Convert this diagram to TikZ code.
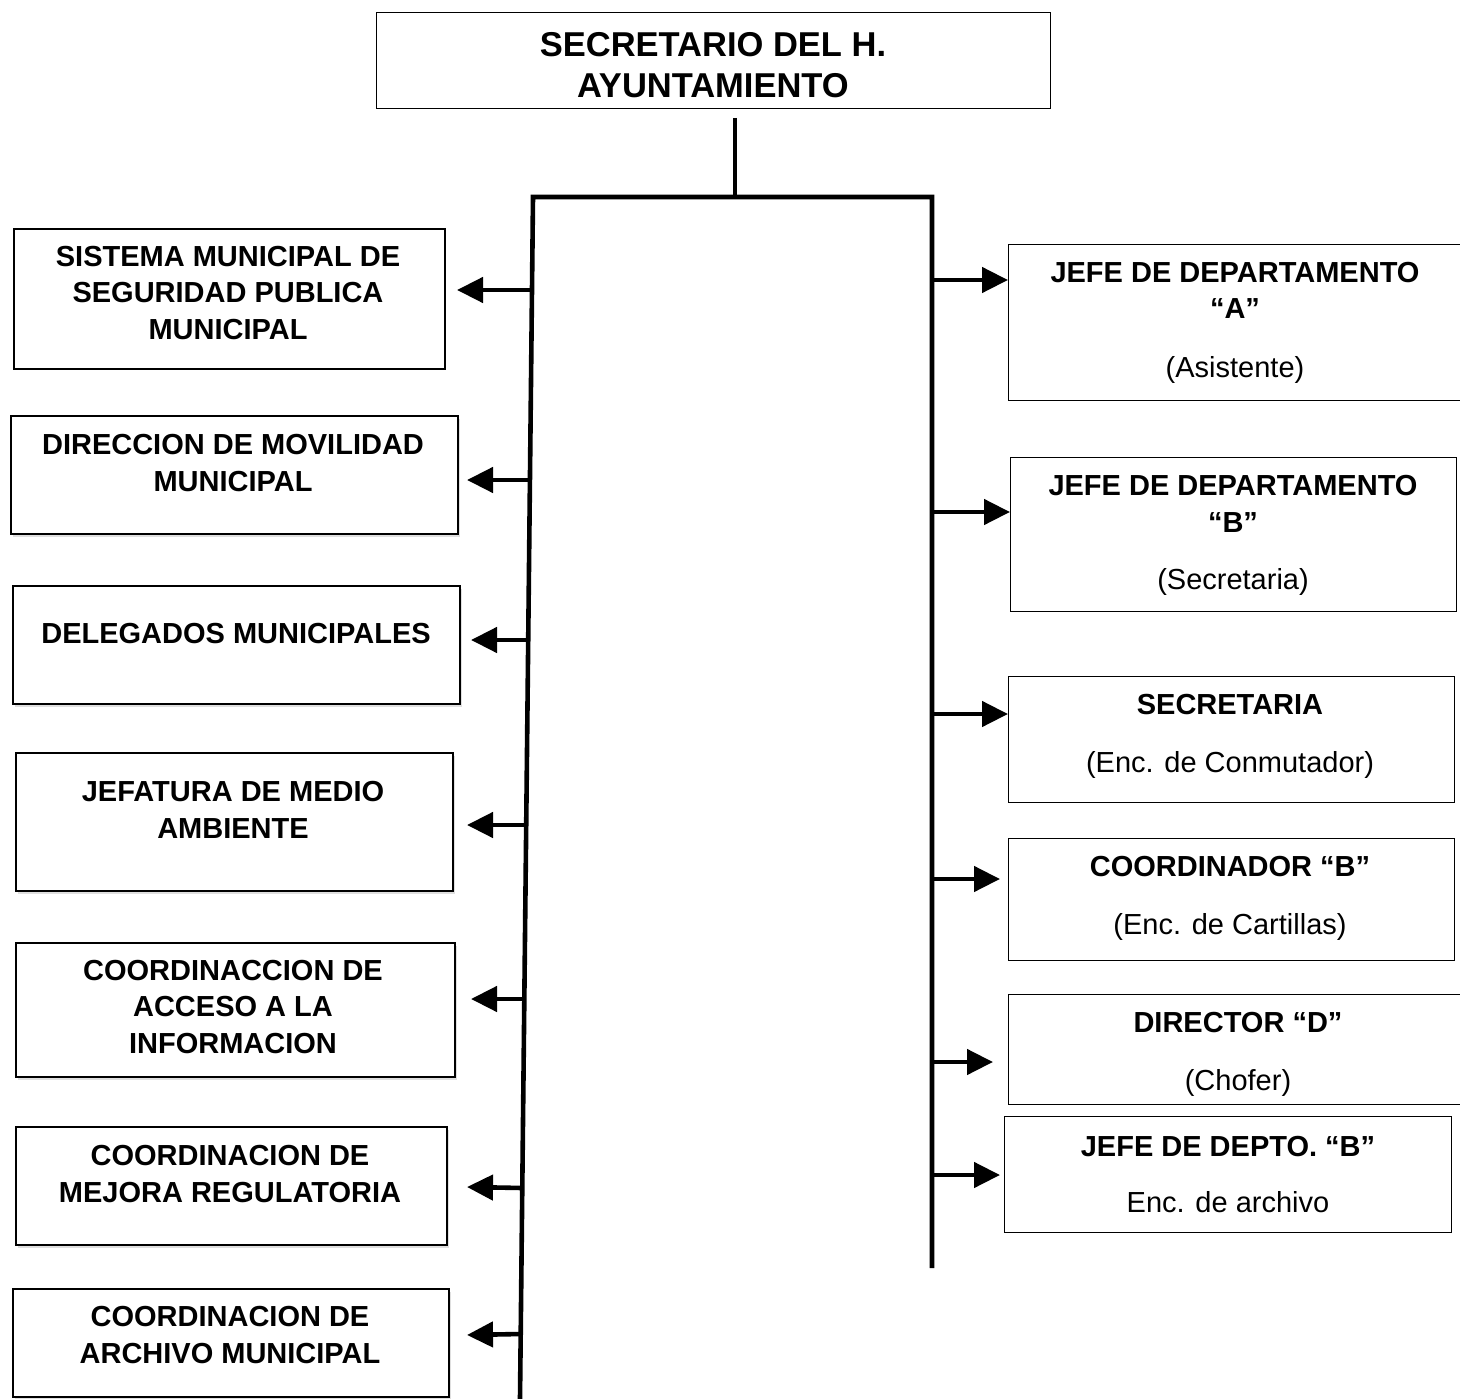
\documentclass[tikz,border=0pt]{standalone}
\usepackage{fontspec}
\setmainfont{Liberation Sans}
\usetikzlibrary{arrows.meta,calc,shadows}
\begin{document}
\begin{tikzpicture}[x=1pt,y=-1pt,
  box/.style={draw, line width=1.4pt, fill=white, inner sep=0pt, anchor=north west},
  sbox/.style={box, line width=1.8pt, drop shadow={shadow xshift=2pt, shadow yshift=-3pt, opacity=0.25, fill=gray}},
  ttl/.style={font=\fontsize{29}{36.5}\selectfont\bfseries, align=center, inner sep=0pt, anchor=base},
  sub/.style={font=\fontsize{29}{36.5}\selectfont, align=center, inner sep=0pt, anchor=base},
  head/.style={font=\fontsize{34.5}{41}\selectfont\bfseries, align=center, inner sep=0pt, anchor=base},
  trunk/.style={line width=4.6pt, line join=miter},
  branch/.style={line width=4.6pt, -{Triangle[length=26pt,width=25pt]}}]
\useasboundingbox (0,0) rectangle (1460,1399);

% head of the chart
\node[box, minimum width=674pt, minimum height=96pt] (top) at (376,12) {};
\node[head] (topt) at (713,98) {SECRETARIO DEL H.\\AYUNTAMIENTO};

% trunk lines
\coordinate (stemtop) at (735,118);
\coordinate (stembot) at (735,197);
\coordinate (lbot) at (520,1399);
\coordinate (ltop) at (533,197);
\coordinate (rtop) at (932,197);
\coordinate (rbot) at (932,1268);
\draw[trunk] (stemtop) -- (stembot);
\draw[trunk] (lbot) -- (ltop) -- (rtop) -- (rbot);

% left column
\node[box, line width=1.8pt, minimum width=431pt, minimum height=140pt] (l1) at (13,228) {};
\node[ttl] (l1t) at (228,339) {SISTEMA MUNICIPAL DE\\SEGURIDAD PUBLICA\\MUNICIPAL};
\node[sbox, minimum width=447pt, minimum height=118pt] (l2) at (10,415) {};
\node[ttl] (l2t) at (233,491) {DIRECCION DE MOVILIDAD\\MUNICIPAL};
\node[sbox, minimum width=447pt, minimum height=118pt] (l3) at (12,585) {};
\node[ttl] (l3t) at (236,643) {DELEGADOS MUNICIPALES};
\node[sbox, minimum width=437pt, minimum height=138pt] (l4) at (15,752) {};
\node[ttl] (l4t) at (233,838) {JEFATURA DE MEDIO\\AMBIENTE};
\node[sbox, minimum width=439pt, minimum height=134pt] (l5) at (15,942) {};
\node[ttl] (l5t) at (233,1053) {COORDINACCION DE\\ACCESO A LA\\INFORMACION};
\node[sbox, minimum width=431pt, minimum height=118pt] (l6) at (15,1126) {};
\node[ttl] (l6t) at (230,1202) {COORDINACION DE\\MEJORA REGULATORIA};
\node[sbox, minimum width=436pt, minimum height=108pt] (l7) at (12,1288) {};
\node[ttl] (l7t) at (230,1363) {COORDINACION DE\\ARCHIVO MUNICIPAL};

% left branches
\coordinate (a1s) at (532,290);  \coordinate (a1e) at (457,290);
\coordinate (a2s) at (530,480);  \coordinate (a2e) at (467,480);
\coordinate (a3s) at (528,640);  \coordinate (a3e) at (471,640);
\coordinate (a4s) at (526,825);  \coordinate (a4e) at (467,825);
\coordinate (a5s) at (524,999);  \coordinate (a5e) at (471,999);
\coordinate (a6s) at (522,1188); \coordinate (a6e) at (467,1187);
\coordinate (a7s) at (521,1334); \coordinate (a7e) at (467,1335);
\foreach \i in {1,...,7}{\draw[branch] (a\i s) -- (a\i e);}

% right column
\node[box, minimum width=460pt, minimum height=156pt] (r1) at (1008,244) {};
\node[ttl] (r1t) at (1235,319) {JEFE DE DEPARTAMENTO\\“A”};
\node[sub] (r1s) at (1235,377) {(Asistente)};
\node[box, minimum width=446pt, minimum height=154pt] (r2) at (1010,457) {};
\node[ttl] (r2t) at (1233,532) {JEFE DE DEPARTAMENTO\\“B”};
\node[sub] (r2s) at (1233,589) {(Secretaria)};
\node[box, minimum width=446pt, minimum height=126pt] (r3) at (1008,676) {};
\node[ttl] (r3t) at (1230,714) {SECRETARIA};
\node[sub] (r3s) at (1230,772) {(Enc. de Conmutador)};
\node[box, minimum width=446pt, minimum height=122pt] (r4) at (1008,838) {};
\node[ttl] (r4t) at (1230,876) {COORDINADOR “B”};
\node[sub] (r4s) at (1230,934) {(Enc. de Cartillas)};
\node[box, minimum width=460pt, minimum height=110pt] (r5) at (1008,994) {};
\node[ttl] (r5t) at (1238,1032) {DIRECTOR “D”};
\node[sub] (r5s) at (1238,1090) {(Chofer)};
\node[box, minimum width=447pt, minimum height=116pt] (r6) at (1004,1116) {};
\node[ttl] (r6t) at (1228,1156) {JEFE DE DEPTO. “B”};
\node[sub] (r6s) at (1228,1212) {Enc. de archivo};

% right branches
\coordinate (b1) at (932,280);
\coordinate (b2) at (932,512);
\coordinate (b3) at (932,714);
\coordinate (b4) at (932,879);
\coordinate (b5) at (932,1062);
\coordinate (b6) at (932,1175);
\draw[branch] (b1) -- (b1 -| r1.west);
\draw[branch] (b2) -- (b2 -| r2.west);
\draw[branch] (b3) -- (b3 -| r3.west);
\draw[branch] (b4) -- ++(68,0) coordinate (b4e);
\draw[branch] (b5) -- ++(61,0) coordinate (b5e);
\draw[branch] (b6) -- ++(68,0) coordinate (b6e);
\end{tikzpicture}
\end{document}
